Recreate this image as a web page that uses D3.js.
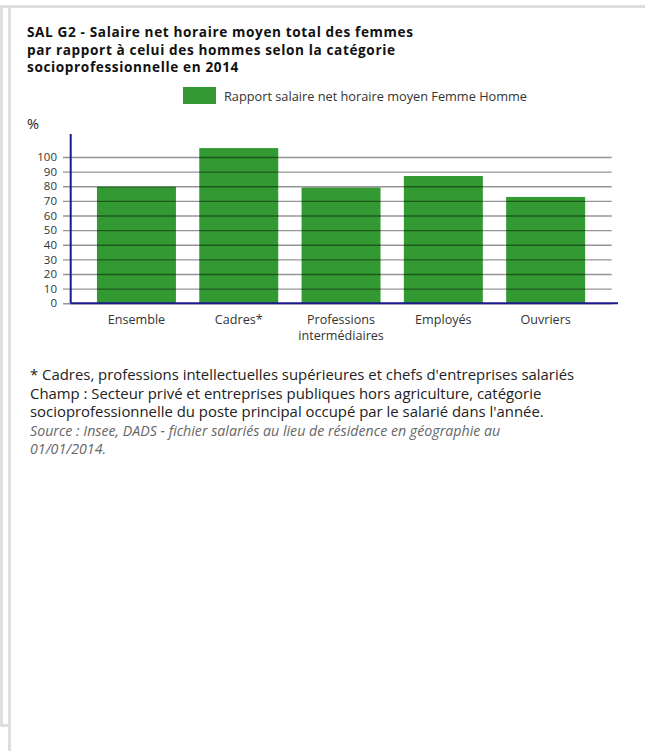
<!DOCTYPE html>
<html lang="fr">
<head>
<meta charset="utf-8">
<title>SAL G2</title>
<style type="text/css">
  body { margin:0; background:#fff; }
  svg { display:block; font-family:"Open Sans", sans-serif; }
</style>
<script src="https://cdnjs.cloudflare.com/ajax/libs/d3/7.8.5/d3.min.js"></script>
</head>
<body>
<div id="chart"></div>
<script>
  // data
  var categories = ["Ensemble", "Cadres*", "Professions intermédiaires", "Employés", "Ouvriers"];
  var catLines = [["Ensemble"], ["Cadres*"], ["Professions", "intermédiaires"], ["Employés"], ["Ouvriers"]];
  var values = [79.7, 106.1, 79.1, 87.0, 72.7];
  var yTicks = [0, 10, 20, 30, 40, 50, 60, 70, 80, 90, 100];

  var titleLines = [
    "SAL G2 - Salaire net horaire moyen total des femmes",
    "par rapport à celui des hommes selon la catégorie",
    "socioprofessionnelle en 2014"
  ];
  var legendLabel = "Rapport salaire net horaire moyen Femme Homme";
  var notes = [
    "* Cadres, professions intellectuelles supérieures et chefs d'entreprises salariés",
    "Champ : Secteur privé et entreprises publiques hors agriculture, catégorie",
    "socioprofessionnelle du poste principal occupé par le salarié dans l'année."
  ];
  var sourceLines = [
    "Source : Insee, DADS - fichier salariés au lieu de résidence en géographie au",
    "01/01/2014."
  ];

  var w = 645, h = 751;
  var green = "#339933", navy = "#1a1a8c";

  var svg = d3.select("#chart").append("svg")
    .attr("width", w)
    .attr("height", h);

  // grey frame: outer box, then the white panel laid over it
  svg.append("rect").attr("x", 1.5).attr("y", 6.5).attr("width", 700).attr("height", 719)
    .attr("fill", "none").attr("stroke", "#dedede").attr("stroke-width", 3);
  svg.append("rect").attr("x", 8).attr("y", 8).attr("width", w).attr("height", h)
    .attr("fill", "#fff");
  svg.append("line").attr("x1", 9.5).attr("x2", 9.5).attr("y1", 8).attr("y2", h)
    .attr("stroke", "#dedede").attr("stroke-width", 3);

  // title
  svg.append("text")
    .attr("font-weight", "bold")
    .attr("font-size", "13.6px")
    .attr("letter-spacing", "0.62px")
    .attr("fill", "#111")
    .selectAll("tspan")
    .data(titleLines)
    .enter().append("tspan")
    .attr("x", 27)
    .attr("y", function(d, i) { return 37 + i * 17.6; })
    .text(function(d) { return d; });

  // legend
  svg.append("rect").attr("x", 183).attr("y", 87).attr("width", 33).attr("height", 17).attr("fill", green);
  svg.append("text").attr("x", 224).attr("y", 100.5)
    .attr("font-size", "12.75px").attr("fill", "#333")
    .text(legendLabel);

  // scales
  var x = d3.scaleBand()
    .domain(categories)
    .range([85.3, 596.8])
    .paddingInner(0.228)
    .paddingOuter(0.114);

  var y = d3.scaleLinear()
    .domain([0, 116])
    .range([303.3, 133.6]);

  // unit
  svg.append("text").attr("x", 27).attr("y", 129)
    .attr("font-size", "14.5px").attr("fill", "#222").text("%");

  // bars
  svg.append("g").selectAll("rect")
    .data(values)
    .enter().append("rect")
    .attr("x", function(d, i) { return x(categories[i]); })
    .attr("y", function(d) { return y(d); })
    .attr("width", x.bandwidth())
    .attr("height", function(d) { return y(0) - y(d); })
    .attr("fill", green);

  // gridlines + tick labels through d3 axis
  var yAxis = d3.axisLeft(y)
    .tickValues(yTicks)
    .tickSize(-(611.7 - 63))
    .tickPadding(6)
    .tickFormat(d3.format("d"));

  var gy = svg.append("g")
    .attr("transform", "translate(63,0)")
    .call(yAxis);
  gy.select(".domain").remove();
  gy.selectAll(".tick line")
    .attr("stroke", "#000")
    .attr("stroke-opacity", 0.42)
    .attr("stroke-width", 1.4);
  gy.selectAll(".tick text")
    .attr("font-family", "Open Sans, sans-serif")
    .attr("font-size", "11.5px")
    .attr("fill", "#333");

  // axis lines
  svg.append("line").attr("x1", 70.7).attr("x2", 70.7).attr("y1", 134).attr("y2", y(0))
    .attr("stroke", navy).attr("stroke-width", 2);
  svg.append("line").attr("x1", 70.7).attr("x2", 618).attr("y1", y(0)).attr("y2", y(0))
    .attr("stroke", navy).attr("stroke-width", 2);

  // category labels
  svg.append("g").selectAll("text")
    .data(categories)
    .enter().append("text")
    .attr("text-anchor", "middle")
    .attr("font-size", "12.6px")
    .attr("fill", "#333")
    .each(function(d, i) {
      d3.select(this).selectAll("tspan")
        .data(catLines[i])
        .enter().append("tspan")
        .attr("x", x(d) + x.bandwidth() / 2)
        .attr("y", function(t, j) { return 324 + j * 15.5; })
        .text(function(t) { return t; });
    });

  // notes
  svg.append("text")
    .attr("font-size", "14.9px")
    .attr("fill", "#222")
    .selectAll("tspan")
    .data(notes)
    .enter().append("tspan")
    .attr("x", 30)
    .attr("y", function(d, i) { return 380 + i * 18.5; })
    .text(function(d) { return d; });

  svg.append("text")
    .attr("font-size", "14.2px")
    .attr("font-style", "italic")
    .attr("fill", "#666")
    .selectAll("tspan")
    .data(sourceLines)
    .enter().append("tspan")
    .attr("x", 30)
    .attr("y", function(d, i) { return 436 + i * 18; })
    .text(function(d) { return d; });
</script>
</body>
</html>
